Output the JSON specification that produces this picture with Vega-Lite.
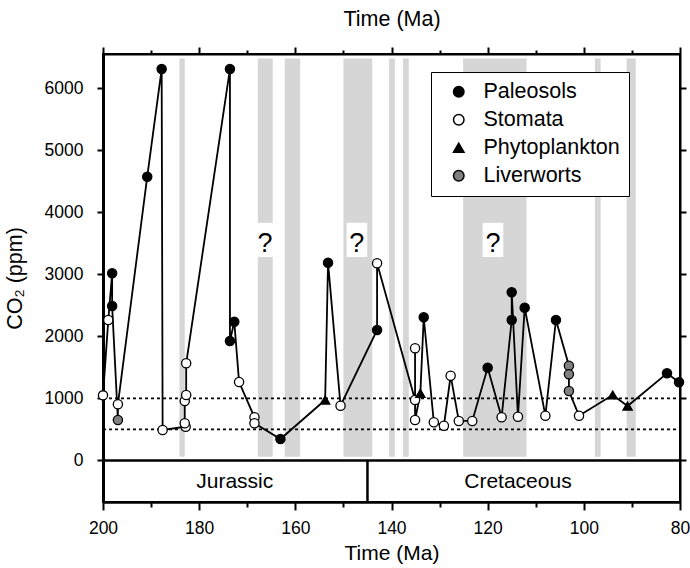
{
 "$schema": "https://vega.github.io/schema/vega-lite/v6.json",
 "width": 577,
 "height": 448,
 "autosize": {"type": "none"},
 "padding": {"left": 103, "top": 54, "right": 10, "bottom": 66},
 "background": "white",
 "config": {
  "font": "Liberation Sans",
  "view": {"stroke": "black", "strokeWidth": 2},
  "axis": {"grid": false, "domainColor": "black", "domainWidth": 2, "tickColor": "black", "tickWidth": 2, "labelColor": "black", "titleColor": "black", "titleFontWeight": "normal", "labelFontSize": 17.5, "titleFontSize": 21.5, "labelFlush": false, "labelOverlap": false}
 },
 "datasets": {
  "bands": [
   {"a": 184.1, "b": 183.0}, {"a": 167.8, "b": 164.7}, {"a": 162.2, "b": 159.0},
   {"a": 150.0, "b": 144.0}, {"a": 140.5, "b": 139.3}, {"a": 137.6, "b": 136.4},
   {"a": 125.1, "b": 111.9}, {"a": 97.7, "b": 96.5}, {"a": 91.1, "b": 89.2}
  ],
  "q": [
   {"c": 166.3, "a": 168.45, "b": 164.15},
   {"c": 147.2, "a": 149.35, "b": 145.05},
   {"c": 118.9, "a": 121.05, "b": 116.75}
  ],
  "lims": [{"y": 500}, {"y": 1000}],
  "periods": [{"name": "Jurassic", "t": 172.6}, {"name": "Cretaceous", "t": 113.7}],
  "pts": [
   {"i": 1, "t": 200.0, "co2": 1050, "proxy": "Stomata"},
   {"i": 2, "t": 198.9, "co2": 2264, "proxy": "Stomata"},
   {"i": 3, "t": 198.1, "co2": 3017, "proxy": "Paleosols"},
   {"i": 4, "t": 198.1, "co2": 2490, "proxy": "Paleosols"},
   {"i": 5, "t": 196.9, "co2": 653, "proxy": "Liverworts"},
   {"i": 6, "t": 196.9, "co2": 906, "proxy": "Stomata"},
   {"i": 7, "t": 190.8, "co2": 4574, "proxy": "Paleosols"},
   {"i": 8, "t": 187.8, "co2": 6309, "proxy": "Paleosols"},
   {"i": 9, "t": 187.6, "co2": 492, "proxy": "Stomata"},
   {"i": 10, "t": 182.8, "co2": 545, "proxy": "Stomata"},
   {"i": 11, "t": 183.0, "co2": 600, "proxy": "Stomata"},
   {"i": 12, "t": 183.0, "co2": 959, "proxy": "Stomata"},
   {"i": 13, "t": 182.7, "co2": 1056, "proxy": "Stomata"},
   {"i": 14, "t": 182.7, "co2": 1566, "proxy": "Stomata"},
   {"i": 15, "t": 173.6, "co2": 6309, "proxy": "Paleosols"},
   {"i": 16, "t": 173.6, "co2": 1926, "proxy": "Paleosols"},
   {"i": 17, "t": 172.7, "co2": 2237, "proxy": "Paleosols"},
   {"i": 18, "t": 171.7, "co2": 1265, "proxy": "Stomata"},
   {"i": 19, "t": 168.5, "co2": 696, "proxy": "Stomata"},
   {"i": 20, "t": 168.5, "co2": 600, "proxy": "Stomata"},
   {"i": 21, "t": 163.1, "co2": 346, "proxy": "Paleosols"},
   {"i": 22, "t": 153.8, "co2": 975, "proxy": "Phytoplankton"},
   {"i": 23, "t": 153.2, "co2": 3188, "proxy": "Paleosols"},
   {"i": 24, "t": 150.6, "co2": 883, "proxy": "Stomata"},
   {"i": 25, "t": 143.0, "co2": 2103, "proxy": "Paleosols"},
   {"i": 26, "t": 143.0, "co2": 3178, "proxy": "Stomata"},
   {"i": 27, "t": 135.1, "co2": 975, "proxy": "Stomata"},
   {"i": 28, "t": 135.1, "co2": 1808, "proxy": "Stomata"},
   {"i": 29, "t": 135.1, "co2": 653, "proxy": "Stomata"},
   {"i": 30, "t": 134.0, "co2": 1083, "proxy": "Phytoplankton"},
   {"i": 31, "t": 133.3, "co2": 2308, "proxy": "Paleosols"},
   {"i": 32, "t": 131.2, "co2": 616, "proxy": "Stomata"},
   {"i": 33, "t": 129.1, "co2": 561, "proxy": "Stomata"},
   {"i": 34, "t": 127.7, "co2": 1367, "proxy": "Stomata"},
   {"i": 35, "t": 126.0, "co2": 637, "proxy": "Stomata"},
   {"i": 36, "t": 123.2, "co2": 637, "proxy": "Stomata"},
   {"i": 37, "t": 120.0, "co2": 1496, "proxy": "Paleosols"},
   {"i": 38, "t": 117.1, "co2": 696, "proxy": "Stomata"},
   {"i": 39, "t": 115.0, "co2": 2264, "proxy": "Paleosols"},
   {"i": 40, "t": 115.0, "co2": 2711, "proxy": "Paleosols"},
   {"i": 41, "t": 113.7, "co2": 706, "proxy": "Stomata"},
   {"i": 42, "t": 112.3, "co2": 2463, "proxy": "Paleosols"},
   {"i": 43, "t": 108.0, "co2": 722, "proxy": "Stomata"},
   {"i": 44, "t": 105.8, "co2": 2264, "proxy": "Paleosols"},
   {"i": 45, "t": 103.1, "co2": 1528, "proxy": "Liverworts"},
   {"i": 46, "t": 103.1, "co2": 1389, "proxy": "Liverworts"},
   {"i": 47, "t": 103.1, "co2": 1120, "proxy": "Liverworts"},
   {"i": 48, "t": 101.0, "co2": 722, "proxy": "Stomata"},
   {"i": 49, "t": 94.0, "co2": 1056, "proxy": "Phytoplankton"},
   {"i": 50, "t": 90.9, "co2": 878, "proxy": "Phytoplankton"},
   {"i": 51, "t": 82.7, "co2": 1405, "proxy": "Paleosols"},
   {"i": 52, "t": 80.2, "co2": 1260, "proxy": "Paleosols"}
  ]
 },
 "layer": [
  {
   "data": {"name": "bands"},
   "mark": {"type": "rect", "color": "#d6d6d6"},
   "encoding": {
    "x": {"field": "a", "type": "quantitative",
     "scale": {"domain": [80, 200], "reverse": true, "nice": false, "zero": false},
     "axis": {"orient": "bottom", "title": "Time (Ma)", "values": [200, 190, 180, 170, 160, 150, 140, 130, 120, 110, 100, 90, 80],
      "labelExpr": "datum.value % 20 === 0 ? datum.label : ''",
      "tickSize": {"condition": {"test": "datum.value % 20 === 0", "value": 8}, "value": 5},
      "labelPadding": 9, "titlePadding": 6, "titleFontSize": 21, "domainWidth": 2.5}},
    "x2": {"field": "b"},
    "y": {"datum": 60, "type": "quantitative",
     "scale": {"domain": [-669, 6551], "nice": false, "zero": false},
     "axis": {"orient": "left", "title": "CO₂ (ppm)", "format": "d", "values": [0, 1000, 2000, 3000, 4000, 5000, 6000], "tickSize": 6, "labelPadding": 14, "titlePadding": 18, "domainWidth": 3}},
    "y2": {"datum": 6480}
   }
  },
  {
   "data": {"name": "q"},
   "mark": {"type": "rect", "color": "white"},
   "encoding": {
    "x": {"field": "a", "type": "quantitative", "axis": null},
    "x2": {"field": "b"},
    "y": {"datum": 3280, "type": "quantitative", "axis": null},
    "y2": {"datum": 3830}
   }
  },
  {
   "data": {"name": "q"},
   "mark": {"type": "text", "text": "?", "fontSize": 27, "color": "black", "baseline": "alphabetic", "align": "center"},
   "encoding": {
    "x": {"field": "c", "type": "quantitative", "axis": null},
    "y": {"datum": 3365, "type": "quantitative", "axis": null}
   }
  },
  {
   "data": {"name": "lims"},
   "mark": {"type": "rule", "color": "black", "strokeWidth": 1.8, "strokeDash": [3, 3]},
   "encoding": {
    "x": {"datum": 200, "type": "quantitative",
     "axis": {"orient": "top", "title": "Time (Ma)", "labels": false, "values": [200, 190, 180, 170, 160, 150, 140, 130, 120, 110, 100, 90, 80],
      "tickSize": {"condition": {"test": "datum.value % 20 === 0", "value": 7}, "value": 4},
      "titlePadding": 16}},
    "x2": {"datum": 80},
    "y": {"field": "y", "type": "quantitative",
     "axis": {"orient": "right", "title": null, "labels": false, "values": [0, 1000, 2000, 3000, 4000, 5000, 6000], "tickSize": 6}}
   }
  },
  {
   "data": {"values": [{"k": 0}]},
   "mark": {"type": "rule", "color": "black", "strokeWidth": 2.5},
   "encoding": {
    "x": {"datum": 200, "type": "quantitative", "axis": null},
    "x2": {"datum": 80},
    "y": {"datum": 0, "type": "quantitative", "axis": null}
   }
  },
  {
   "data": {"values": [{"k": 0}]},
   "mark": {"type": "rule", "color": "black", "strokeWidth": 2.5},
   "encoding": {
    "x": {"datum": 145, "type": "quantitative", "axis": null},
    "y": {"datum": -669, "type": "quantitative", "axis": null},
    "y2": {"datum": 0}
   }
  },
  {
   "data": {"name": "periods"},
   "mark": {"type": "text", "fontSize": 21, "color": "black", "baseline": "alphabetic", "align": "center"},
   "encoding": {
    "x": {"field": "t", "type": "quantitative", "axis": null},
    "y": {"datum": -443, "type": "quantitative", "axis": null},
    "text": {"field": "name"}
   }
  },
  {
   "data": {"name": "pts"},
   "mark": {"type": "line", "color": "black", "strokeWidth": 1.8},
   "encoding": {
    "x": {"field": "t", "type": "quantitative", "axis": null},
    "y": {"field": "co2", "type": "quantitative", "axis": null},
    "order": {"field": "i", "type": "quantitative"}
   }
  },
  {
   "data": {"name": "pts"},
   "mark": {"type": "point", "filled": true, "size": 85, "stroke": "black", "strokeWidth": 1.3, "opacity": 1},
   "encoding": {
    "x": {"field": "t", "type": "quantitative", "axis": null},
    "y": {"field": "co2", "type": "quantitative", "axis": null},
    "shape": {"field": "proxy", "type": "nominal",
     "scale": {"domain": ["Paleosols", "Stomata", "Phytoplankton", "Liverworts"], "range": ["circle", "circle", "triangle-up", "circle"]},
     "legend": {"title": null, "orient": "none", "legendX": 328, "legendY": 18, "strokeColor": "black", "fillColor": "white", "padding": 9, "labelFontSize": 21.5, "labelColor": "black", "symbolSize": 110, "rowPadding": 5, "labelOffset": 14, "symbolOffset": 8,
      "encode": {"symbols": {"update": {"stroke": {"value": "black"}, "strokeWidth": {"value": 1.3}}}, "legend": {"update": {"strokeWidth": {"value": 2}}}}}},
    "fill": {"field": "proxy", "type": "nominal",
     "scale": {"domain": ["Paleosols", "Stomata", "Phytoplankton", "Liverworts"], "range": ["#000000", "#ffffff", "#000000", "#808080"]},
     "legend": {"title": null, "orient": "none", "legendX": 328, "legendY": 18, "strokeColor": "black", "fillColor": "white", "padding": 9, "labelFontSize": 21.5, "labelColor": "black", "symbolSize": 110, "rowPadding": 5, "labelOffset": 14, "symbolOffset": 8,
      "encode": {"symbols": {"update": {"stroke": {"value": "black"}, "strokeWidth": {"value": 1.3}}}, "legend": {"update": {"strokeWidth": {"value": 2}}}}}}
   }
  }
 ],
 "resolve": {"axis": {"x": "independent", "y": "independent"}}
}
